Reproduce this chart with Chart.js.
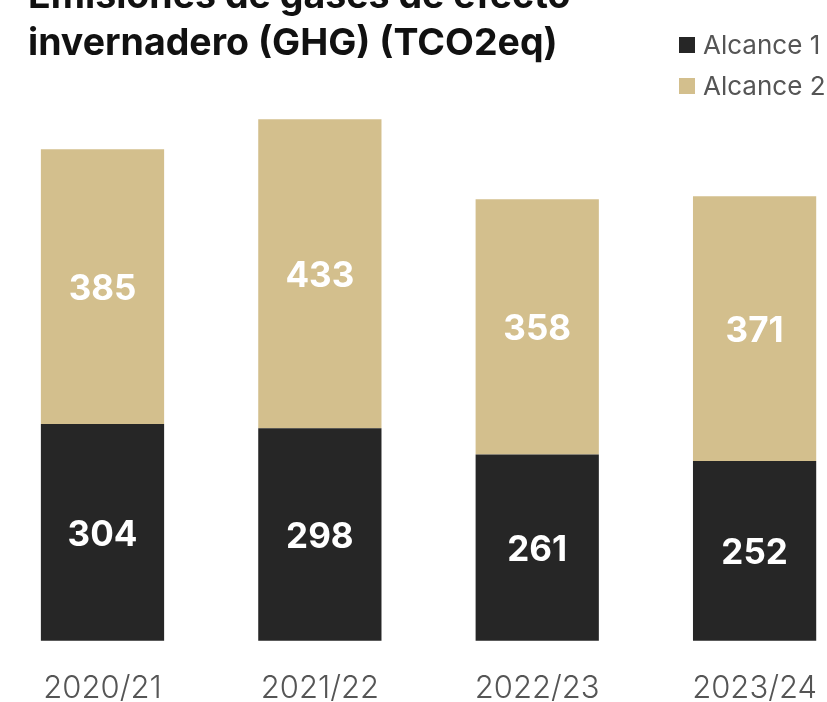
<!DOCTYPE html>
<html>
<head>
<meta charset="utf-8">
<script src="https://cdn.jsdelivr.net/npm/chart.js@4"></script>
<style>
  html, body { margin: 0; padding: 0; background: #fff; overflow: hidden; }
  #wrap { position: relative; width: 827px; height: 702px; overflow: hidden; }
  #title {
    position: absolute; left: 28px; top: -29px;
    font-family: Inter, sans-serif; font-weight: 700; font-size: 37.5px;
    line-height: 47px; color: #111; white-space: nowrap;
  }
  #legend {
    position: absolute; left: 679px; top: 24px;
    font-family: Inter, sans-serif; font-size: 26px; color: #555;
  }
  #legend div { height: 41px; display: flex; align-items: center; }
  #legend span.box { width: 16px; height: 16px; margin-right: 8px; display: inline-block; }
  canvas { position: absolute; left: 0; top: 0; }
</style>
</head>
<body>
<div id="wrap">
  <canvas id="chart" width="838" height="728"></canvas>
  <div id="title">Emisiones de gases de efecto<br>invernadero (GHG) (TCO2eq)</div>
  <div id="legend"></div>
</div>
<script>
const years = ['2020/21', '2021/22', '2022/23', '2023/24'];
const alcance1 = [304, 298, 261, 252];
const alcance2 = [385, 433, 358, 371];

const seriesNames = ['Alcance 1', 'Alcance 2'];
const colors = ['#262626', '#d3bf8d'];

// legend
const legend = document.getElementById('legend');
seriesNames.forEach((name, i) => {
    const row = document.createElement('div');
    row.innerHTML = '<span class="box" style="background:' + colors[i] + '"></span>' + name;
    legend.appendChild(row);
});

// values written in the middle of each segment
const valueLabels = {
    id: 'valueLabels',
    afterDatasetsDraw(chart) {
        const ctx = chart.ctx;
        ctx.save();
        ctx.fillStyle = '#fff';
        ctx.font = '700 35px Inter, sans-serif';
        ctx.textAlign = 'center';
        ctx.textBaseline = 'middle';
        chart.data.datasets.forEach((ds, i) => {
            chart.getDatasetMeta(i).data.forEach((bar, j) => {
                const mid = (bar.y + bar.base) / 2;
                ctx.fillText(ds.data[j], bar.x, mid + 3);
            });
        });
        ctx.restore();
    }
};

const ctx = document.getElementById('chart').getContext('2d');
new Chart(ctx, {
    type: 'bar',
    data: {
        labels: years,
        datasets: [
            { label: seriesNames[0], data: alcance1, backgroundColor: colors[0], clip: false },
            { label: seriesNames[1], data: alcance2, backgroundColor: colors[1], clip: false }
        ]
    },
    options: {
        responsive: false,
        animation: false,
        layout: { padding: { top: 70, left: 102.5, right: 73.5, bottom: 0 } },
        datasets: { bar: { categoryPercentage: 1, barPercentage: 0.567 } },
        plugins: {
            legend: { display: false },
            tooltip: { enabled: false }
        },
        scales: {
            x: {
                stacked: true,
                offset: false,
                grid: { display: false },
                border: { display: false },
                ticks: {
                    color: '#555',
                    font: { family: 'Inter', size: 31, weight: 300 },
                    padding: 21,
                    maxRotation: 0,
                    autoSkip: false
                }
            },
            y: {
                stacked: true,
                display: false,
                min: 0,
                max: 800
            }
        }
    },
    plugins: [valueLabels]
});
</script>
</body>
</html>
